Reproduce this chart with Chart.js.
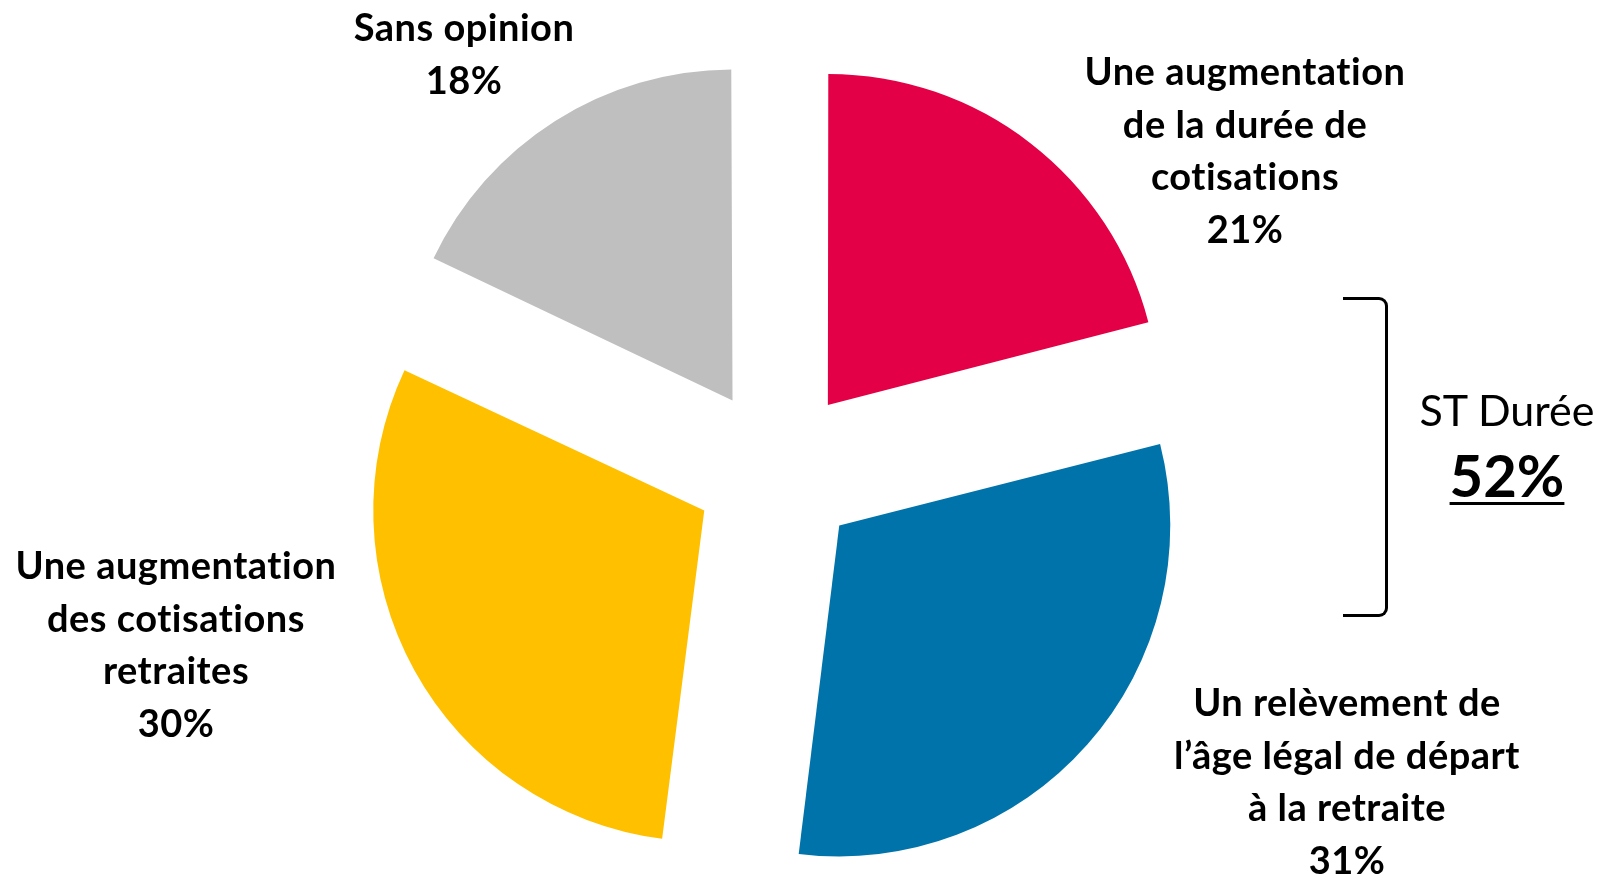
<!DOCTYPE html>
<html lang="fr">
<head>
<meta charset="utf-8">
<title>Réforme des retraites</title>
<script src="https://cdn.jsdelivr.net/npm/chart.js@4/dist/chart.umd.min.js"></script>
<style>
  html, body { margin: 0; padding: 0; background: #fff; overflow: hidden; }
  #wrap { position: relative; width: 1597px; height: 874px; }
  #chartBox { position: absolute; left: 0; top: 0; width: 1597px; height: 874px; }
  .lbl {
    position: absolute;
    transform: translateX(-50%);
    white-space: nowrap;
    text-align: center;
    font-family: Lato, "Open Sans", sans-serif;
    font-weight: bold;
    font-size: 38px;
    letter-spacing: 0.5px;
    font-variant-ligatures: none;
    line-height: 52.5px;
    color: #000;
  }
  #bracket {
    position: absolute;
    left: 1343px; top: 297px;
    width: 42px; height: 314px;
    border: 3px solid #000;
    border-left: none;
    border-radius: 0 9px 9px 0;
  }
  #st {
    position: absolute;
    left: 1507px; top: 383px;
    transform: translateX(-50%);
    text-align: center;
    font-family: Lato, "Open Sans", sans-serif;
    font-variant-ligatures: none;
    color: #000;
    white-space: nowrap;
  }
  #st .name { font-size: 43px; line-height: 54px; }
  #st .total { margin-top: 5px; font-size: 58px; line-height: 66px; font-weight: bold; text-decoration: underline; text-decoration-thickness: 3px; text-underline-offset: 5px; }
</style>
</head>
<body>
<div id="wrap">
  <div id="chartBox"><canvas id="pie"></canvas></div>
  <div id="bracket"></div>
  <div id="st"><div class="name"></div><div class="total"></div></div>
</div>
<script>
"use strict";

// data (clockwise from 12 o'clock)
const categories = [
  ["Une augmentation", "de la durée de", "cotisations"],
  ["Un relèvement de", "l’âge légal de départ", "à la retraite"],
  ["Une augmentation", "des cotisations", "retraites"],
  ["Sans opinion"]
];
const values = [21, 31, 30, 18];
const colors = ["#E40046", "#0073AA", "#FFC000", "#BFBFBF"];
const subTotalName = "ST Durée";
const subTotalParts = [0, 1];

// label placement (centre x, top of block)
const labelPos = [
  { x: 1245, y: 44 },
  { x: 1347, y: 675 },
  { x: 176, y: 538 },
  { x: 464, y: 0 }
];

const pieRadius = 331;
const explode = 332; // chart.js draws offset / 4

const wrap = document.getElementById("wrap");
const canvas = document.getElementById("pie");

// keep every slice at the same radius (chart.js grows exploded arcs a bit)
const evenRadius = {
  id: "evenRadius",
  beforeDatasetsDraw(chart) {
    chart.getDatasetMeta(0).data.forEach(arc => {
      const fix = 1 - Math.sin(Math.min(Math.PI, arc.circumference));
      arc.outerRadius = pieRadius - (explode / 4) * fix;
    });
  }
};

const pie = new Chart(canvas.getContext("2d"), {
  type: "pie",
  data: {
    labels: categories.map(c => c.join(" ")),
    datasets: [
      {
        data: values,
        backgroundColor: colors,
        borderWidth: 0,
        offset: explode,
        radius: pieRadius
      }
    ]
  },
  options: {
    responsive: true,
    maintainAspectRatio: false,
    animation: false,
    layout: { padding: { left: 0, right: 43, top: 67, bottom: 0 } },
    plugins: {
      legend: { display: false },
      tooltip: { enabled: false }
    }
  },
  plugins: [evenRadius]
});

categories.forEach((lines, i) => {
  const div = document.createElement("div");
  div.className = "lbl";
  div.style.left = labelPos[i].x + "px";
  div.style.top = labelPos[i].y + "px";
  lines.concat([values[i] + "%"]).forEach(t => {
    const line = document.createElement("div");
    line.textContent = t;
    div.appendChild(line);
  });
  wrap.appendChild(div);
});

const st = document.getElementById("st");
st.querySelector(".name").textContent = subTotalName;
st.querySelector(".total").textContent =
  subTotalParts.reduce((s, i) => s + values[i], 0) + "%";
</script>
</body>
</html>
